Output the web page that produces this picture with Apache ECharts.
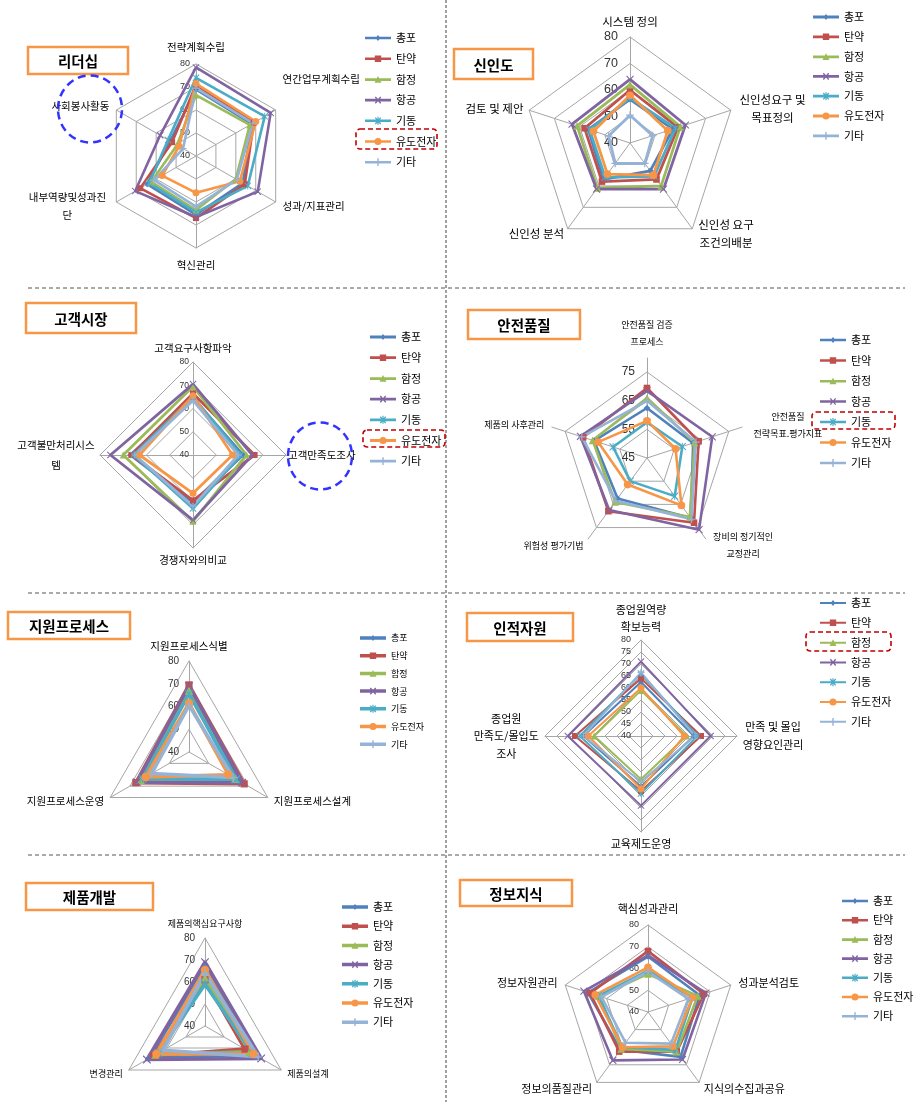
<!DOCTYPE html>
<html><head><meta charset="utf-8">
<script src="https://cdn.jsdelivr.net/npm/echarts@6/dist/echarts.min.js"></script>
<style>html,body{margin:0;padding:0;background:#fff}#c{width:922px;height:1102px}</style>
</head><body><div id="c"></div>
<script>
// ---------- DATA ----------
const seriesNames = ['총포','탄약','함정','항공','기동','유도전자','기타'];

// 리더십 (clockwise from top)
const leadAxes = ['전략계획수립','연간업무계획수립','성과/지표관리','혁신관리','내부역량및성과진\n단','사회봉사활동'];
const leadValues = [
  [69, 68, 63.5, 65.5, 64.5, 53],
  [71, 69, 64.5, 67, 68, 52],
  [66.5, 67, 60, 63.5, 62.5, 49.5],
  [78.5, 77.5, 71, 66.5, 70.5, 58],
  [74, 74.5, 66, 64.5, 63.5, 54],
  [71.5, 70, 62, 56, 57, 48.5],
  [69.5, 68.5, 60.5, 62, 61, 46.5]
];
// 신인도
const trustAxes = ['시스템 정의','신인성요구 및\n목표정의','신인성 요구\n조건의배분','신인성 분석','검토 및 제안'];
const trustValues = [
  [56.5, 57, 53, 57, 56.5],
  [60, 59, 57, 58, 58],
  [62, 60, 60, 61, 61],
  [64, 62, 61.5, 61.5, 63],
  [57, 58, 55.5, 56, 56],
  [58, 55, 55, 54.5, 54.5],
  [50.5, 49, 49.5, 49.5, 48.5]
];
// 고객시장
const custAxes = ['고객요구사항파악','고객만족도조사','경쟁자와의비교','고객불만처리시스\n템'];
const custValues = [
  [64.5, 61.5, 60.5, 67],
  [66.5, 66.5, 59.5, 66.5],
  [69.5, 63, 68.5, 70],
  [70.5, 65.5, 68, 75.5],
  [65, 60.5, 63, 65.5],
  [65.5, 57, 56.5, 63],
  [63.5, 59.5, 62, 65]
];
// 안전품질
const safeAxes = ['안전품질 검증\n프로세스','안전품질\n전략목표.평가지표','장비의 정기적인\n교정관리','위험성 평가기법','제품의 사후관리'];
const safeValues = [
  [62.5, 62, 71, 62.5, 64.5],
  [69.5, 64, 73, 68, 68.5],
  [66, 62.5, 70.5, 64, 65],
  [68.5, 69, 76, 67.5, 69.5],
  [57.5, 58, 61.5, 55, 57.5],
  [58, 55.5, 65.5, 56.5, 63],
  [65, 63, 71.5, 63.5, 69]
];
// 지원프로세스
const suppAxes = ['지원프로세스식별','지원프로세스설계','지원프로세스운영'];
const suppValues = [
  [68, 65.5, 64],
  [69.5, 68, 67],
  [67, 63.5, 64.5],
  [69, 67, 66.5],
  [65.5, 64, 63.5],
  [61.5, 60, 62],
  [60.5, 62.5, 59]
];
// 인적자원
const hrAxes = ['종업원역량\n확보능력','만족 및 몰입\n영향요인관리','교육제도운영','종업원\n만족도/몰입도\n조사'];
const hrValues = [
  [62.5, 62, 61, 64],
  [64, 65, 63, 67.5],
  [59, 59, 58, 59.5],
  [71, 69, 69, 70.5],
  [66, 63.5, 64, 65.5],
  [60, 58, 62, 62],
  [66.5, 62.5, 59, 64]
];
// 제품개발
const prodAxes = ['제품의핵심요구사항','제품의설계','변경관리'];
const prodValues = [
  [67, 66, 69.5],
  [61, 61, 67],
  [62, 63.5, 66],
  [69, 69.5, 70.5],
  [59, 65, 64.5],
  [65.5, 65.5, 65.5],
  [64, 68, 62]
];
// 정보지식
const infoAxes = ['핵심성과관리','성과분석검토','지식의수집과공유','정보의품질관리','정보자원관리'];
const infoValues = [
  [65.5, 65, 65.5, 61.5, 69],
  [68, 67, 62.5, 62.5, 68],
  [57.5, 64, 62.5, 61, 63.5],
  [66, 68, 67, 67.5, 71],
  [59, 61.5, 61.5, 60, 64],
  [60.5, 61.5, 59.5, 60, 65.5],
  [58.5, 59.5, 58, 57.5, 62.5]
];

// ---------- STYLE / LAYOUT ----------
const FONT = '"Noto Sans CJK KR", "Noto Sans", sans-serif';
const colors = ['#4F81BD','#C0504D','#9BBB59','#8064A2','#4BACC6','#F79646','#95B3D7'];
const SYM_X = 'path://M0,1 L1,0 L5,4 L9,0 L10,1 L6,5 L10,9 L9,10 L5,6 L1,10 L0,9 L4,5 Z';
const SYM_AST = 'path://M0,1 L1,0 L5,4 L9,0 L10,1 L6,5 L10,9 L9,10 L5,6 L1,10 L0,9 L4,5 Z M4.4,0 L5.6,0 L5.6,10 L4.4,10 Z';
const SYM_PLUS = 'path://M4.2,0 L5.8,0 L5.8,4.2 L10,4.2 L10,5.8 L5.8,5.8 L5.8,10 L4.2,10 L4.2,5.8 L0,5.8 L0,4.2 L4.2,4.2 Z';
const symbols = ['diamond','rect','triangle',SYM_X,SYM_AST,'circle',SYM_PLUS];
const symSizes = [6,6,7,7,7,7,7];
const iconMarks = [
  'M13,2.6 L15.4,5.5 L13,8.4 L10.6,5.5 Z',
  'M9.8,2.3 L16.2,2.3 L16.2,8.7 L9.8,8.7 Z',
  'M13,2 L16.5,8.6 L9.5,8.6 Z',
  'M9.8,2.8 L10.8,1.9 L16.2,8.2 L15.2,9.1 Z M15.2,1.9 L16.2,2.8 L10.8,9.1 L9.8,8.2 Z',
  'M9.8,2.8 L10.8,1.9 L16.2,8.2 L15.2,9.1 Z M15.2,1.9 L16.2,2.8 L10.8,9.1 L9.8,8.2 Z M12.4,1.5 L13.6,1.5 L13.6,9.5 L12.4,9.5 Z',
  'M9.5,5.5 A3.5,3.5 0 1 1 16.5,5.5 A3.5,3.5 0 1 1 9.5,5.5 Z',
  'M12.3,1.6 L13.7,1.6 L13.7,9.4 L12.3,9.4 Z'
];
function iconPath(i, lw) {
  const y0 = (5.5 - lw / 2).toFixed(2), y1 = (5.5 + lw / 2).toFixed(2);
  return 'path://M0,' + y0 + ' L26,' + y0 + ' L26,' + y1 + ' L0,' + y1 + ' Z ' + iconMarks[i];
}
const ecOrder = a => [a[0]].concat(a.slice(1).reverse());
function textWidth(s, fs) {
  let w = 0;
  for (const ch of s) {
    const code = ch.codePointAt(0);
    w += code >= 0x1100 ? fs : (ch === ' ' ? fs * 0.25 : fs * 0.5);
  }
  return w;
}

// labelGap: distance between the tick label's right edge and the vertical axis
const charts = [
  {axes: leadAxes, values: leadValues, title: '리더십', box: [28,47,100,27], center: [196,156], r: 92, min: 40, max: 80, split: 4,
   labelSize: 9, labelGap: 6, nameSize: 10.5, nameGap: 8, lh: 18, lw: 2.6, symScale: 1, shift: {1: 3}, legend: [365, 32, 8.7, 11]},
  {axes: trustAxes, values: trustValues, title: '신인도', box: [454,49,79,30], center: [630,143], r: 106, min: 40, max: 80, split: 4,
   labelSize: 12.5, labelGap: 12, nameSize: 11.5, nameGap: 6, lh: 18, lw: 2.8, symScale: 1.1, legend: [813, 11, 7.8, 11]},
  {axes: custAxes, values: custValues, title: '고객시장', box: [26,303,110,30], center: [193,455], r: 93, min: 40, max: 80, split: 4,
   labelSize: 8.5, labelGap: 4, nameSize: 10.5, nameGap: 2, lh: 20, lw: 2.8, symScale: 1, legend: [370, 331, 8.7, 11]},
  {axes: safeAxes, values: safeValues, title: '안전품질', box: [468,310,112,29], center: [647,458], r: 100, min: 45, max: 80, split: 3,
   gridMax: 75, gridR: 86, labelSize: 12, labelGap: 12, nameSize: 9, nameGap: 8, lh: 17, lw: 2.6, symScale: 1.1, legend: [820, 334, 8.5, 11]},
  {axes: suppAxes, values: suppValues, title: '지원프로세스', box: [8,612,122,27], center: [189,752], r: 91, min: 40, max: 80, split: 4,
   labelSize: 10, labelGap: 10, nameSize: 10.5, nameGap: 7, lh: 16, lw: 3.5, symScale: 1.2, legend: [360, 632, 5.7, 9]},
  {axes: hrAxes, values: hrValues, title: '인적자원', box: [467,613,106,28], center: [641,736], r: 96, min: 40, max: 80, split: 8,
   labelSize: 9, labelGap: 10, nameSize: 11, nameGap: 3, lh: 17.5, lw: 2, symScale: 1, legend: [820, 597, 7.8, 11]},
  {axes: prodAxes, values: prodValues, title: '제품개발', box: [26,883,127,27], center: [205,1026], r: 88, min: 40, max: 80, split: 4,
   labelSize: 10, labelGap: 10, nameSize: 9, nameGap: 7, lh: 14, lw: 3.5, symScale: 1.2, legend: [342, 901, 7.2, 11]},
  {axes: infoAxes, values: infoValues, title: '정보지식', box: [460,880,112,26], center: [648,1012], r: 87, min: 40, max: 80, split: 4,
   labelSize: 9, labelGap: 9, nameSize: 11, nameGap: 8, lh: 16, lw: 2.6, symScale: 1.1, legend: [842, 895, 7.2, 11]}
];

const GRID = '#A6A6A6';
const radars = [], series = [], legends = [], elements = [];

charts.forEach(c => {
  const labelStyle = {show: true, fontSize: c.labelSize, color: '#333', fontFamily: 'Arial, "Liberation Sans", sans-serif',
                      margin: c.labelGap, formatter: v => String(Math.round(v))};
  const rich = {};
  c.axes.forEach((n, j) => {
    const lines = n.split('\n');
    if (lines.length > 1) {
      const w = Math.max(...lines.map(l => textWidth(l, c.nameSize)));
      rich['n' + j] = {width: w, align: 'center', fontSize: c.nameSize, fontFamily: FONT, color: '#000', lineHeight: c.lh};
    }
  });
  const nameStyle = {
    color: '#000', fontSize: c.nameSize, fontFamily: FONT, lineHeight: c.lh, rich: rich,
    formatter: name => {
      const j = c.axes.indexOf(name);
      const lines = name.split('\n');
      let s = lines.length > 1 ? lines.map(l => '{n' + j + '|' + l + '}').join('\n') : name;
      const extra = (c.shift && c.shift[j]) || 0;
      for (let k = 0; k < extra; k++) s += '\n ';
      return s;
    }
  };
  const names = ecOrder(c.axes);
  if (c.gridMax) {
    radars.push({
      center: c.center, radius: c.gridR, startAngle: 90, shape: 'polygon', splitNumber: c.split,
      indicator: names.map((n, i) => ({name: '', min: c.min, max: c.gridMax, axisLabel: {show: i === 0}})),
      axisName: {show: false},
      splitArea: {show: false}, splitLine: {lineStyle: {color: GRID, width: 1}},
      axisLine: {show: false}, axisTick: {show: false}, axisLabel: labelStyle, silent: true
    });
    radars.push({
      center: c.center, radius: c.r, startAngle: 90, shape: 'polygon', splitNumber: 1,
      indicator: names.map(n => ({name: n, min: c.min, max: c.max})),
      axisName: nameStyle, nameGap: c.nameGap,
      splitArea: {show: false}, splitLine: {show: false},
      axisLine: {lineStyle: {color: GRID, width: 1}}, axisTick: {show: false}, axisLabel: {show: false}, silent: true
    });
  } else {
    radars.push({
      center: c.center, radius: c.r, startAngle: 90, shape: 'polygon', splitNumber: c.split,
      indicator: names.map((n, i) => ({name: n, min: c.min, max: c.max, axisLabel: {show: i === 0}})),
      axisName: nameStyle, nameGap: c.nameGap,
      splitArea: {show: false}, splitLine: {lineStyle: {color: GRID, width: 1}},
      axisLine: {lineStyle: {color: GRID, width: 1}}, axisTick: {show: false}, axisLabel: labelStyle, silent: true
    });
  }
  series.push({
    type: 'radar', radarIndex: radars.length - 1, silent: true, animation: false,
    data: seriesNames.map((n, i) => ({
      name: n, value: ecOrder(c.values[i]),
      symbol: symbols[i], symbolSize: symSizes[i] * c.symScale,
      itemStyle: {color: colors[i], borderWidth: 0},
      lineStyle: {color: colors[i], width: c.lw}
    }))
  });
  legends.push({
    orient: 'vertical', left: c.legend[0], top: c.legend[1], itemGap: c.legend[2], padding: 0,
    itemWidth: 26, itemHeight: 12, selectedMode: false, itemStyle: {borderWidth: 0},
    textStyle: {fontSize: c.legend[3], color: '#000', fontFamily: FONT, lineHeight: 12},
    data: seriesNames.map((n, i) => ({name: n, icon: iconPath(i, c.lw)}))
  });
  const [bx, by, bw, bh] = c.box;
  elements.push({type: 'rect', shape: {x: bx, y: by, width: bw, height: bh},
    style: {fill: '#fff', stroke: '#F79646', lineWidth: 2.5}, z: 10});
  elements.push({type: 'text', x: bx + bw / 2, y: by + bh / 2 + 1, z: 11,
    style: {text: c.title, fontSize: 14.5, fontWeight: 'bold', fontFamily: FONT, fill: '#000', align: 'center', verticalAlign: 'middle'}});
});

// dividers
elements.push({type: 'line', shape: {x1: 446, y1: 0, x2: 446, y2: 1102}, style: {stroke: '#A0A0A0', lineWidth: 2, lineDash: [3, 2]}});
[288, 593, 855].forEach(y => {
  elements.push({type: 'line', shape: {x1: 28, y1: y, x2: 905, y2: y}, style: {stroke: '#555', lineWidth: 1, lineDash: [4, 3]}});
});
// blue dashed circles
[[90, 109], [320, 456]].forEach(p => {
  elements.push({type: 'ellipse', shape: {cx: p[0], cy: p[1], rx: 32, ry: 33.5}, z: 20,
    style: {fill: null, stroke: '#3333FF', lineWidth: 2.5, lineDash: [8, 5]}});
});
// red dashed boxes
[[356,129,81,20],[363,430,82,17],[812,412,83,17],[806,632,85,19]].forEach(b => {
  elements.push({type: 'rect', shape: {x: b[0], y: b[1], width: b[2], height: b[3], r: 4}, z: 20,
    style: {fill: null, stroke: '#C00000', lineWidth: 1.6, lineDash: [5, 3]}});
});

const chart = echarts.init(document.getElementById('c'), null, {renderer: 'canvas'});
chart.setOption({
  animation: false,
  backgroundColor: '#fff',
  radar: radars,
  series: series,
  legend: legends,
  graphic: {elements: elements}
});
</script>
</body></html>
